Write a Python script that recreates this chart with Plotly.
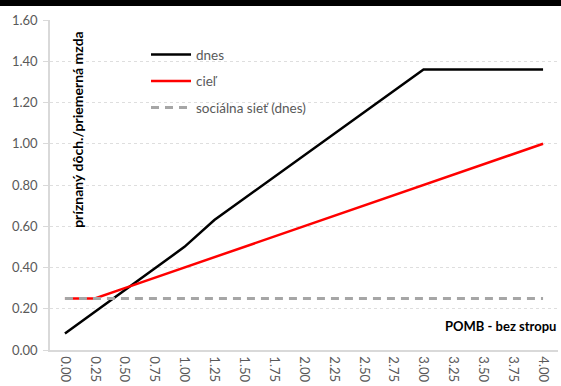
import plotly.graph_objects as go

# Income multiple (x categories) and declared income / average wage ratios
categories = ["0.00", "0.25", "0.50", "0.75", "1.00", "1.25", "1.50", "1.75", "2.00",
              "2.25", "2.50", "2.75", "3.00", "3.25", "3.50", "3.75", "4.00"]
dnes = [0.08, 0.185, 0.29, 0.395, 0.50, 0.63, 0.734, 0.839, 0.943,
        1.047, 1.151, 1.256, 1.36, 1.36, 1.36, 1.36, 1.36]
ciel = [0.25, 0.25, 0.30, 0.35, 0.40, 0.45, 0.50, 0.55, 0.60,
        0.65, 0.70, 0.75, 0.80, 0.85, 0.90, 0.95, 1.00]
socialna_siet = [0.25] * len(categories)

y_ticks = [0.0, 0.2, 0.4, 0.6, 0.8, 1.0, 1.2, 1.4, 1.6]
y_ticktext = ["0.00", "0.20", "0.40", "0.60", "0.80", "1.00", "1.20", "1.40", "1.60"]

FONT = "Lato, 'Open Sans', sans-serif"
TICK_COLOR = "#595959"

fig = go.Figure()
fig.add_trace(go.Scatter(x=categories, y=dnes, mode="lines", name="dnes",
                         legendgroup="a", line=dict(color="black", width=2.5)))
fig.add_trace(go.Scatter(x=categories, y=ciel, mode="lines", name="cieľ",
                         legendgroup="b", line=dict(color="#ff0000", width=2.5)))
fig.add_trace(go.Scatter(x=categories, y=socialna_siet, mode="lines",
                         name="sociálna sieť (dnes)", legendgroup="c",
                         line=dict(color="#a6a6a6", width=3, dash="8px,6px")))

fig.update_layout(
    width=561, height=386,
    margin=dict(l=50, r=3, t=20, b=36),
    paper_bgcolor="white", plot_bgcolor="white",
    font=dict(family=FONT, size=13, color=TICK_COLOR),
    showlegend=True,
    legend=dict(x=0.189, y=0.942, xanchor="left", yanchor="top",
                bgcolor="rgba(0,0,0,0)", tracegroupgap=6,
                font=dict(size=13.5, color=TICK_COLOR), itemwidth=40),
    xaxis=dict(type="category", range=[-0.5, len(categories) - 0.5],
               tickangle=90, showgrid=False,
               showline=True, linecolor="#d9d9d9", linewidth=1.5,
               ticks="", tickfont=dict(size=13, color=TICK_COLOR),
               ticklabelstandoff=2, zeroline=False),
    yaxis=dict(range=[0, 1.6], tickvals=y_ticks, ticktext=y_ticktext,
               showgrid=True, gridcolor="#dedede", griddash="3px,3px", gridwidth=1,
               showline=True, linecolor="#d9d9d9", linewidth=1.5,
               ticks="outside", ticklen=5, tickcolor="#d9d9d9",
               tickfont=dict(size=13, color=TICK_COLOR),
               ticklabelstandoff=3, zeroline=False),
    annotations=[
        dict(text="<b>príznaný dôch./priemerná mzda</b>", textangle=-90,
             xref="paper", yref="paper", x=0.055, y=0.67,
             xanchor="center", yanchor="middle", showarrow=False,
             font=dict(size=14, color="black")),
        dict(text="<b>POMB - bez stropu</b>", xref="paper", yref="paper",
             x=1.0, y=0.073, xanchor="right", yanchor="middle", showarrow=False,
             font=dict(size=13, color="black")),
    ],
    shapes=[
        dict(type="rect", xref="paper", yref="paper",
             x0=-0.2, x1=1.1, y0=1 + 14 / 330, y1=1 + 30 / 330,
             fillcolor="black", line=dict(width=0), layer="above"),
    ],
)

fig.write_html("out.html")
